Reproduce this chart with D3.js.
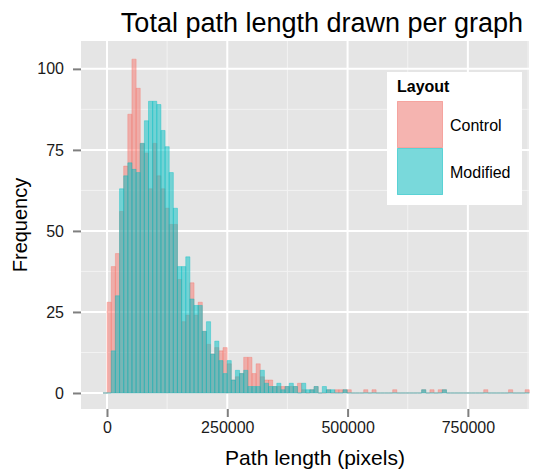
<!DOCTYPE html>
<html>
<head>
<meta charset="utf-8">
<script src="https://cdn.jsdelivr.net/npm/d3@7"></script>
<style>
  body { margin: 0; background: #fff; }
  text { font-family: "Liberation Sans", Arial, sans-serif; }
</style>
</head>
<body>
<div id="chart"></div>
<script>
// histogram bins (path length in pixels)
const binStart = -8300;
const binWidth = 8600;

const controlCounts = [
  0, 28, 39, 43, 56, 70, 86, 103, 94, 77,
  74, 63, 77, 67, 63, 57, 52, 52, 35, 22,
  24, 34, 24, 28, 19, 15, 12, 14, 13, 14,
  9, 4, 5, 6, 11, 11, 6, 9, 5, 4,
  4, 2, 2, 2, 2, 2, 2, 3, 1, 0,
  1, 2, 0, 0, 1, 0, 1, 1, 1, 1,
  0, 0, 0, 1, 0, 1, 0, 0, 0, 0,
  1, 0, 0, 0, 0, 0, 0, 1, 0, 1,
  0, 1, 1, 0, 0, 0, 0, 0, 0, 0,
  0, 0, 1, 0, 0, 0, 0, 0, 1, 0,
  0, 0, 1
];

const modifiedCounts = [
  0, 0, 13, 30, 63, 67, 71, 69, 68, 77,
  84, 90, 90, 89, 81, 76, 68, 57, 39, 39,
  42, 29, 27, 27, 19, 22, 12, 16, 10, 6,
  10, 4, 7, 6, 7, 2, 2, 2, 7, 3,
  2, 2, 3, 1, 2, 3, 2, 0, 3, 1,
  1, 2, 0, 2, 1, 1, 0, 0, 1, 0,
  0, 0, 0, 0, 0, 0, 0, 0, 0, 0,
  0, 0, 0, 0, 0, 0, 0, 1, 0, 0,
  0, 0, 1, 0, 0, 0, 0, 0, 0, 0,
  0, 0, 0, 0, 0, 0, 0, 0, 0, 0,
  0, 0, 0
];

const layouts = ["Control", "Modified"];
const layoutColors = ["#F8766D", "#00BFC4"];
const xTicks = [0, 250000, 500000, 750000];
const xMinor = [125000, 375000, 625000, 875000];
const yTicks = [0, 25, 50, 75, 100];
const yMinor = [12.5, 37.5, 62.5, 87.5];

const W = 543, H = 470;
const margin = {top: 41, right: 14, bottom: 61, left: 81};
const width = W - margin.left - margin.right;
const height = H - margin.top - margin.bottom;

const svg = d3.select("#chart").append("svg")
    .attr("width", W)
    .attr("height", H);

const g = svg.append("g")
    .attr("transform", `translate(${margin.left},${margin.top})`);

const x = d3.scaleLinear()
    .domain([-54000, 877000])
    .range([0, width]);

const y = d3.scaleLinear()
    .domain([-4.94, 108.6])
    .range([height, 0]);

// panel
g.append("rect")
    .attr("width", width)
    .attr("height", height)
    .attr("fill", "#E5E5E5");

// grid
g.selectAll(".minor-x").data(xMinor).enter().append("line")
    .attr("x1", d => x(d)).attr("x2", d => x(d))
    .attr("y1", 0).attr("y2", height)
    .attr("stroke", "#F2F2F2").attr("stroke-width", 1);
g.selectAll(".minor-y").data(yMinor).enter().append("line")
    .attr("x1", 0).attr("x2", width)
    .attr("y1", d => y(d)).attr("y2", d => y(d))
    .attr("stroke", "#F2F2F2").attr("stroke-width", 1);
g.selectAll(".major-x").data(xTicks).enter().append("line")
    .attr("x1", d => x(d)).attr("x2", d => x(d))
    .attr("y1", 0).attr("y2", height)
    .attr("stroke", "#fff").attr("stroke-width", 2);
g.selectAll(".major-y").data(yTicks).enter().append("line")
    .attr("x1", 0).attr("x2", width)
    .attr("y1", d => y(d)).attr("y2", d => y(d))
    .attr("stroke", "#fff").attr("stroke-width", 2);

// bars, drawn as paths so empty bins still show their outline
const series = [controlCounts, modifiedCounts];
series.forEach(function (counts, s) {
    g.append("g")
        .selectAll("path")
        .data(counts)
        .enter()
        .append("path")
        .attr("d", function (d, i) {
            let x0 = x(binStart + i * binWidth), x1 = x(binStart + (i + 1) * binWidth);
            let y0 = y(0), y1 = y(d);
            return `M${x0},${y0}H${x1}V${y1}H${x0}Z`;
        })
        .attr("fill", layoutColors[s])
        .attr("fill-opacity", 0.5)
        .attr("stroke", layoutColors[s])
        .attr("stroke-opacity", 0.55)
        .attr("stroke-width", 0.7);
});

// axes
const xAxis = g.append("g")
    .attr("transform", `translate(0,${height})`)
    .call(d3.axisBottom(x).tickValues(xTicks).tickFormat(d3.format("d")).tickSize(8).tickPadding(5));
const yAxis = g.append("g")
    .call(d3.axisLeft(y).tickValues(yTicks).tickSize(8).tickPadding(9));

[xAxis, yAxis].forEach(function (ax) {
    ax.select(".domain").remove();
    ax.selectAll(".tick line").attr("stroke", "#7F7F7F").attr("stroke-width", 2);
    ax.selectAll(".tick text")
        .attr("fill", "#1A1A1A")
        .style("font-size", "16px")
        .style("font-family", "Liberation Sans, Arial, sans-serif");
});

// titles
svg.append("text")
    .attr("x", 322)
    .attr("y", 32)
    .attr("text-anchor", "middle")
    .style("font-size", "27px")
    .text("Total path length drawn per graph");

svg.append("text")
    .attr("x", 315)
    .attr("y", 465)
    .attr("text-anchor", "middle")
    .style("font-size", "21px")
    .text("Path length (pixels)");

svg.append("text")
    .attr("transform", `translate(27,${margin.top + height / 2}) rotate(-90)`)
    .attr("text-anchor", "middle")
    .style("font-size", "20px")
    .text("Frequency");

// legend
const legend = svg.append("g").attr("transform", "translate(387,72)");
legend.append("rect")
    .attr("width", 135)
    .attr("height", 133)
    .attr("fill", "#fff");
legend.append("text")
    .attr("x", 10)
    .attr("y", 20)
    .style("font-size", "16px")
    .style("font-weight", "bold")
    .text("Layout");

const keys = legend.selectAll(".key")
    .data(layouts)
    .enter()
    .append("g")
    .attr("transform", (d, i) => `translate(10,${29 + i * 47})`);
keys.append("rect")
    .attr("width", 46)
    .attr("height", 47)
    .attr("fill", "#F2F2F2");
keys.append("rect")
    .attr("x", 0.5).attr("y", 0.5)
    .attr("width", 45)
    .attr("height", 46)
    .attr("fill", (d, i) => layoutColors[i])
    .attr("fill-opacity", 0.5)
    .attr("stroke", (d, i) => layoutColors[i])
    .attr("stroke-opacity", 0.5);
keys.append("text")
    .attr("x", 53)
    .attr("y", 24)
    .attr("dy", "0.35em")
    .style("font-size", "16px")
    .text(d => d);
</script>
</body>
</html>
